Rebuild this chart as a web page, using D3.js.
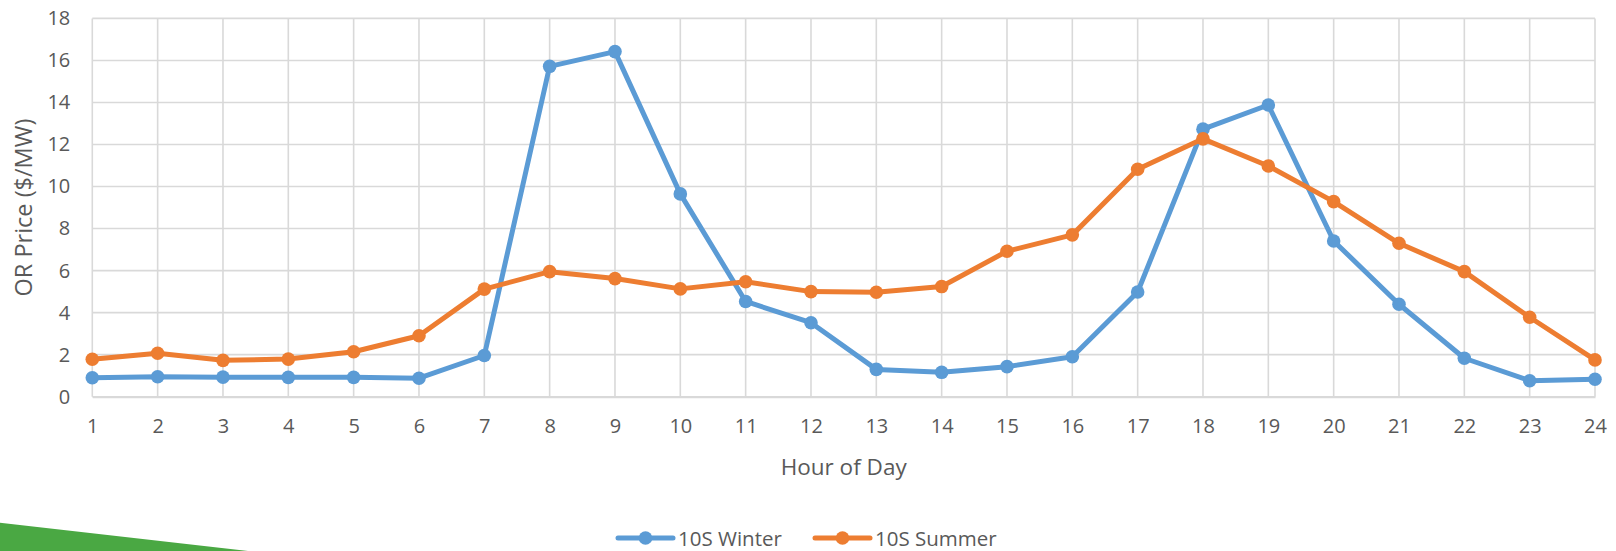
<!DOCTYPE html>
<html>
<head>
<meta charset="utf-8">
<script src="https://cdn.jsdelivr.net/npm/d3@7"></script>
<style>
  html, body { margin: 0; padding: 0; background: #fff; }
  svg { display: block; font-family: "Open Sans", "Noto Sans", sans-serif; }
</style>
</head>
<body>
<svg id="chart" width="1616" height="551"></svg>
<script>
// Operating-reserve price by hour of day
const hours = d3.range(1, 25);
const winter10S = [0.90, 0.95, 0.93, 0.92, 0.92, 0.88, 1.96, 15.72, 16.42, 9.65, 4.53, 3.52,
                   1.30, 1.16, 1.43, 1.90, 4.98, 12.73, 13.88, 7.41, 4.40, 1.83, 0.76, 0.83];
const summer10S = [1.78, 2.07, 1.73, 1.79, 2.14, 2.90, 5.12, 5.95, 5.62, 5.13, 5.47, 5.00,
                   4.97, 5.24, 6.92, 7.70, 10.82, 12.27, 10.98, 9.28, 7.30, 5.95, 3.78, 1.75];
const yTicks = [0, 2, 4, 6, 8, 10, 12, 14, 16, 18];
const seriesNames = ["10S Winter", "10S Summer"];
const seriesColors = ["#5b9bd5", "#ed7d31"];

const series = [
  { name: seriesNames[0], color: seriesColors[0], values: winter10S },
  { name: seriesNames[1], color: seriesColors[1], values: summer10S }
];

const svg = d3.select("#chart");
const textColor = "#595959";
const gridColor = "#d9d9d9";

const x = d3.scaleLinear().domain([1, 24]).range([92.3, 1595]);
const y = d3.scaleLinear().domain([0, 18]).range([396.7, 18.4]);

// decorative green band in the lower-left corner
svg.append("path")
  .attr("d", "M0,522.7 L248,551 L0,551 Z")
  .attr("fill", "#4aa843");

// gridlines
const grid = svg.append("g");
grid.selectAll("line.h").data(yTicks).join("line")
  .attr("x1", x(1)).attr("x2", x(24))
  .attr("y1", d => y(d)).attr("y2", d => y(d))
  .attr("stroke", gridColor).attr("stroke-width", 1.6);
grid.selectAll("line.v").data(hours).join("line")
  .attr("x1", d => x(d)).attr("x2", d => x(d))
  .attr("y1", y(0)).attr("y2", y(18))
  .attr("stroke", gridColor).attr("stroke-width", 1.6);

// axes
const xAxis = svg.append("g")
  .attr("transform", `translate(0,${y(0)})`)
  .call(d3.axisBottom(x).tickValues(hours).tickFormat(d3.format("d")).tickSize(0).tickPadding(22));
xAxis.select(".domain").attr("stroke", gridColor).attr("stroke-width", 2);
xAxis.selectAll("text").attr("fill", textColor).attr("font-size", 20)
  .attr("font-family", "Open Sans");

const yAxis = svg.append("g")
  .attr("transform", `translate(${x(1)},0)`)
  .call(d3.axisLeft(y).tickValues(yTicks).tickFormat(d3.format("d")).tickSize(0).tickPadding(22));
yAxis.select(".domain").remove();
yAxis.selectAll("text").attr("fill", textColor).attr("font-size", 20)
  .attr("font-family", "Open Sans");

// axis titles
svg.append("text")
  .attr("x", (x(1) + x(24)) / 2).attr("y", 466.5)
  .attr("text-anchor", "middle").attr("dominant-baseline", "central")
  .attr("font-size", 22.5).attr("fill", textColor)
  .text("Hour of Day");

svg.append("text")
  .attr("transform", `translate(23,${(y(0) + y(18)) / 2}) rotate(-90)`)
  .attr("text-anchor", "middle").attr("dominant-baseline", "central")
  .attr("font-size", 23.5).attr("fill", textColor)
  .text("OR Price ($/MW)");

// series lines and markers
const line = d3.line().x((d, i) => x(hours[i])).y(d => y(d));
series.forEach(s => {
  const g = svg.append("g");
  g.append("path")
    .attr("d", line(s.values))
    .attr("fill", "none").attr("stroke", s.color)
    .attr("stroke-width", 5).attr("stroke-linejoin", "round").attr("stroke-linecap", "round");
  g.selectAll("circle").data(s.values).join("circle")
    .attr("cx", (d, i) => x(hours[i])).attr("cy", d => y(d))
    .attr("r", 6.8).attr("fill", s.color);
});

// legend
const legendY = 538;
const legendX = [618, 815];
series.forEach((s, i) => {
  const g = svg.append("g").attr("transform", `translate(${legendX[i]},${legendY})`);
  g.append("line").attr("x1", 0).attr("x2", 55).attr("y1", 0).attr("y2", 0)
    .attr("stroke", s.color).attr("stroke-width", 5).attr("stroke-linecap", "round");
  g.append("circle").attr("cx", 27.5).attr("cy", 0).attr("r", 6.8).attr("fill", s.color);
  g.append("text").attr("x", 60).attr("y", 0)
    .attr("dominant-baseline", "central").attr("font-size", 20.5).attr("fill", textColor)
    .text(s.name);
});
</script>
</body>
</html>
